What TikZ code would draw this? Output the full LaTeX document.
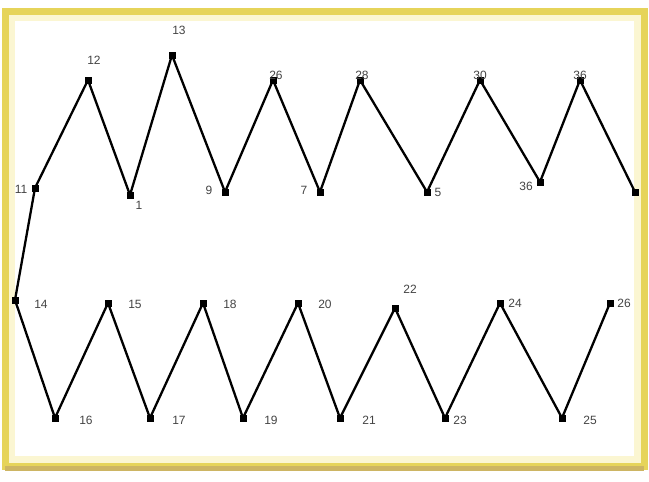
\documentclass[tikz,border=0pt]{standalone}
\usepackage{fontspec}
\setmainfont{Liberation Sans}
\definecolor{frameY}{HTML}{E6D45A}
\definecolor{frameL}{HTML}{FBF6D2}
\definecolor{frameD}{HTML}{CDB563}
\definecolor{labG}{HTML}{444444}
\begin{document}
\begin{tikzpicture}[x=1pt,y=-1pt,
  pt/.style={rectangle,fill=black,inner sep=0pt,minimum size=7pt},
  lab/.style={font=\fontsize{12}{13}\selectfont,text=labG,inner sep=1pt},
  zig/.style={line width=2.3pt,black,line join=round}]
\useasboundingbox (0,0) rectangle (649,482);
\fill[white] (0,0) rectangle (649,482);
% frame
\draw[frameL,line width=8pt] (11,17) rectangle (638,460);
\draw[frameY,line width=7pt] (5,11) rectangle (644,466);
\draw[frameD,line width=5pt] (5,468) -- (644,468);
% upper chain nodes
\node[pt] (a0) at (15,300) {};
\node[pt] (u1) at (35,188) {};
\node[pt] (u2) at (88,80) {};
\node[pt] (u3) at (130,195) {};
\node[pt] (u4) at (172,55) {};
\node[pt] (u5) at (225,192) {};
\node[pt] (u6) at (273,80) {};
\node[pt] (u7) at (320,192) {};
\node[pt] (u8) at (360,80) {};
\node[pt] (u9) at (427,192) {};
\node[pt] (u10) at (480,80) {};
\node[pt] (u11) at (540,182) {};
\node[pt] (u12) at (580,80) {};
\node[pt] (u13) at (635,192) {};
% lower chain nodes
\node[pt] (l1) at (55,418) {};
\node[pt] (l2) at (108,303) {};
\node[pt] (l3) at (150,418) {};
\node[pt] (l4) at (203,303) {};
\node[pt] (l5) at (243,418) {};
\node[pt] (l6) at (298,303) {};
\node[pt] (l7) at (340,418) {};
\node[pt] (l8) at (395,308) {};
\node[pt] (l9) at (445,418) {};
\node[pt] (l10) at (500,303) {};
\node[pt] (l11) at (562,418) {};
\node[pt] (l12) at (610,303) {};
% connectors
\draw[zig] (a0.center) -- (u1.center) -- (u2.center) -- (u3.center) -- (u4.center) -- (u5.center) -- (u6.center) -- (u7.center) -- (u8.center) -- (u9.center) -- (u10.center) -- (u11.center) -- (u12.center) -- (u13.center);
\draw[zig] (a0.center) -- (l1.center) -- (l2.center) -- (l3.center) -- (l4.center) -- (l5.center) -- (l6.center) -- (l7.center) -- (l8.center) -- (l9.center) -- (l10.center) -- (l11.center) -- (l12.center);
% labels upper
\node[lab] (t1) at (21,189) {11};
\node[lab] (t2) at (94,60) {12};
\node[lab] (t3) at (139,205) {1};
\node[lab] (t4) at (179,30) {13};
\node[lab] (t5) at (209,190) {9};
\node[lab] (t6) at (276,75) {26};
\node[lab] (t7) at (304,190) {7};
\node[lab] (t8) at (362,75) {28};
\node[lab] (t9) at (438,192) {5};
\node[lab] (t10) at (480,75) {30};
\node[lab] (t11) at (526,186) {36};
\node[lab] (t12) at (580,75) {36};
% labels lower
\node[lab] (s0) at (41,304) {14};
\node[lab] (s1) at (86,420) {16};
\node[lab] (s2) at (135,304) {15};
\node[lab] (s3) at (179,420) {17};
\node[lab] (s4) at (230,304) {18};
\node[lab] (s5) at (271,420) {19};
\node[lab] (s6) at (325,304) {20};
\node[lab] (s7) at (369,420) {21};
\node[lab] (s8) at (410,289) {22};
\node[lab] (s9) at (460,420) {23};
\node[lab] (s10) at (515,303) {24};
\node[lab] (s11) at (590,420) {25};
\node[lab] (s12) at (624,303) {26};
\end{tikzpicture}
\end{document}
